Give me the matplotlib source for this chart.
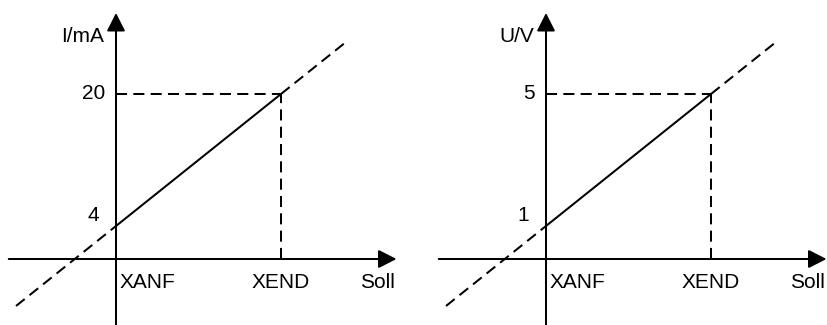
import matplotlib
matplotlib.use("Agg")
import matplotlib.pyplot as plt
import numpy as np

plt.rcParams['font.family'] = ['Liberation Sans', 'DejaVu Sans']

# x positions of the two set points (XANF = 0, XEND = 1)
soll_labels = ['XANF', 'XEND']
soll_pos = [0.0, 1.0]
x_name = 'Soll'

# output ranges of the two panels
y_names = ['I/mA', 'U/V']
y_low = [4, 1]
y_high = [20, 5]

# dashed extension of the characteristic beyond the range
ext_lo = -0.606
ext_hi = 1.406

# layout (pixels in an 828x325 figure)
W, H = 828, 325
UNIT = 165.0        # pixels between XANF and XEND, and between 0 and y_high
ORIG_Y = 259        # pixel row of the x axis
orig_x = [116, 546]  # pixel column of the y axis
panel_x = [0, 414]

LW = 1.45
DASH = (0, (5.5, 3.1))

fig = plt.figure(figsize=(W / 100, H / 100), dpi=100)


def arrow(ax, start, end):
    ax.annotate('', xy=end, xytext=start,
                arrowprops=dict(arrowstyle='-|>,head_length=0.55,head_width=0.28',
                                mutation_scale=20, lw=LW, color='black',
                                shrinkA=0, shrinkB=0))


for i in range(2):
    ax = fig.add_axes([panel_x[i] / W, 0, 414 / W, 1])
    ax.set_axis_off()
    ys = y_high[i] / UNIT  # data units per pixel in y
    x0 = (panel_x[i] - orig_x[i]) / UNIT
    ax.set_xlim(x0, x0 + 414 / UNIT)
    ax.set_ylim(-(H - ORIG_Y) * ys, ORIG_Y * ys)

    # axes with arrow heads
    arrow(ax, (-0.65, 0), (1.70, 0))
    arrow(ax, (0, -(H - ORIG_Y) * ys), (0, (ORIG_Y - 13) * ys))

    # characteristic
    slope = (y_high[i] - y_low[i]) / (soll_pos[1] - soll_pos[0])
    ax.plot(soll_pos, [y_low[i], y_high[i]], color='black', lw=LW,
            solid_capstyle='butt')
    for xa, xb in [(ext_lo, soll_pos[0]), (soll_pos[1], ext_hi)]:
        xs = np.array([xa, xb])
        ax.plot(xs, y_low[i] + slope * (xs - soll_pos[0]), color='black',
                lw=LW, linestyle=DASH)

    # guide lines to XEND / y_high
    ax.plot([0, soll_pos[1]], [y_high[i], y_high[i]], color='black', lw=LW,
            linestyle=DASH)
    ax.plot([soll_pos[1], soll_pos[1]], [0, y_high[i]], color='black', lw=LW,
            linestyle=DASH)

    fs = 15
    # x labels
    ax.annotate(soll_labels[0], xy=(soll_pos[0], 0), xytext=(4, -23),
                textcoords='offset pixels', ha='left', va='center', fontsize=fs)
    ax.annotate(soll_labels[1], xy=(soll_pos[1], 0), xytext=(0, -23),
                textcoords='offset pixels', ha='center', va='center', fontsize=fs)
    ax.annotate(x_name, xy=(1.70, 0), xytext=(-36, -23),
                textcoords='offset pixels', ha='left', va='center', fontsize=fs)

    # y labels
    ax.annotate(y_names[i], xy=(0, (ORIG_Y - 13) * ys), xytext=(-12, -24),
                textcoords='offset pixels', ha='right', va='center', fontsize=fs)
    ax.annotate(str(y_high[i]), xy=(0, y_high[i]), xytext=(-11, 0),
                textcoords='offset pixels', ha='right', va='center', fontsize=fs)
    ax.annotate(str(y_low[i]), xy=(0, y_low[i]), xytext=(-17, 10),
                textcoords='offset pixels', ha='right', va='center', fontsize=fs)

fig.savefig('out.png', dpi=100, facecolor='white')
